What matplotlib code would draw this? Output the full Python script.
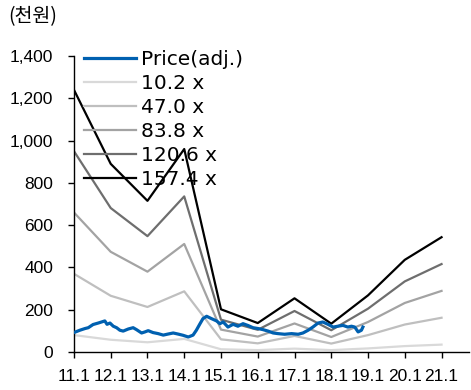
import matplotlib
matplotlib.use("Agg")
import matplotlib.pyplot as plt
from matplotlib.ticker import FuncFormatter

# yearly band points (x = year index, 11 -> "11.1")
band_years = [11, 12, 13, 14, 15, 16, 17, 18, 19, 20, 21]
band_labels = ["10.2 x", "47.0 x", "83.8 x", "120.6 x", "157.4 x"]
band_10_2 = [80, 58, 46, 62, 13, 9, 16, 9, 17, 28, 35]
band_47_0 = [370, 266, 213, 287, 60, 41, 76, 40, 80, 130, 162]
band_83_8 = [660, 474, 380, 511, 106, 73, 135, 71, 142, 232, 289]
band_120_6 = [950, 681, 548, 736, 153, 105, 194, 103, 205, 334, 416]
band_157_4 = [1240, 890, 715, 960, 202, 137, 254, 134, 268, 436, 543]
band_colors = ["#d9d9d9", "#bfbfbf", "#a3a3a3", "#6e6e6e", "#000000"]

# adjusted price
price_t = [0.00, 0.16, 0.30, 0.39, 0.52, 0.66, 0.75, 0.84, 0.90, 0.98,
           1.07, 1.16, 1.25, 1.34, 1.48, 1.61, 1.70, 1.84, 1.93, 2.02,
           2.15, 2.29, 2.43, 2.56, 2.70, 2.83, 2.97, 3.11, 3.24, 3.33,
           3.42, 3.51, 3.61, 3.74, 3.88, 3.97, 4.06, 4.19, 4.33, 4.46,
           4.60, 4.74, 4.87, 5.01, 5.14, 5.28, 5.42, 5.55, 5.73, 5.92,
           6.10, 6.23, 6.37, 6.50, 6.64, 6.77, 6.91, 7.05, 7.18, 7.32,
           7.45, 7.55, 7.64, 7.73, 7.82, 7.86]
price_v = [92, 103, 111, 115, 130, 137, 142, 147, 131, 137,
           122, 115, 103, 99, 109, 115, 106, 90, 95, 101,
           92, 87, 80, 85, 90, 85, 79, 71, 80, 103,
           131, 158, 169, 158, 147, 134, 142, 118, 131, 122,
           134, 125, 115, 111, 106, 99, 90, 87, 84, 87,
           84, 90, 103, 118, 137, 142, 131, 118, 122, 126,
           118, 122, 118, 95, 103, 118]

xtick_labels = ["11.1", "12.1", "13.1", "14.1", "15.1", "16.1",
                "17.1", "18.1", "19.1", "20.1", "21.1"]

fig = plt.figure(figsize=(4.71, 3.90), dpi=100)
ax = fig.add_axes([0.157, 0.0974, 0.839, 0.759])

price_x = [11 + t for t in price_t]
ax.plot(price_x, price_v, color="#0060b0", lw=2.3, label="Price(adj.)", zorder=3)
bands = [band_10_2, band_47_0, band_83_8, band_120_6, band_157_4]
for vals, lab, col in zip(bands, band_labels, band_colors):
    ax.plot(band_years, vals, color=col, lw=1.6, label=lab, zorder=2)

ax.set_xlim(11, 21.75)
ax.set_ylim(0, 1400)
ax.set_xticks(band_years)
ax.set_xticklabels(xtick_labels)
ax.set_yticks(range(0, 1401, 200))
ax.yaxis.set_major_formatter(FuncFormatter(lambda v, p: "{:,.0f}".format(v)))

for s in ["top", "right"]:
    ax.spines[s].set_visible(False)
ax.spines["left"].set_linewidth(1.0)
ax.spines["bottom"].set_linewidth(1.0)
ax.tick_params(axis="both", direction="out", length=4, width=1, colors="black",
               labelsize=12.5)
for lbl in ax.get_xticklabels() + ax.get_yticklabels():
    lbl.set_family(["Liberation Sans", "DejaVu Sans"])
ax.tick_params(axis="x", pad=8)
ax.tick_params(axis="y", pad=11)

leg = ax.legend(loc="upper left", bbox_to_anchor=(0.025, 1.021), frameon=False,
                prop={"family": "DejaVu Sans", "size": 14.5},
                handlelength=2.6, handletextpad=0.25, labelspacing=0.255,
                borderpad=0, borderaxespad=0)

fig.text(0.018, 0.957, "(천원)", fontsize=14,
         family=["Noto Sans CJK KR", "DejaVu Sans"], va="center", ha="left")

fig.savefig("out.png", dpi=100)
